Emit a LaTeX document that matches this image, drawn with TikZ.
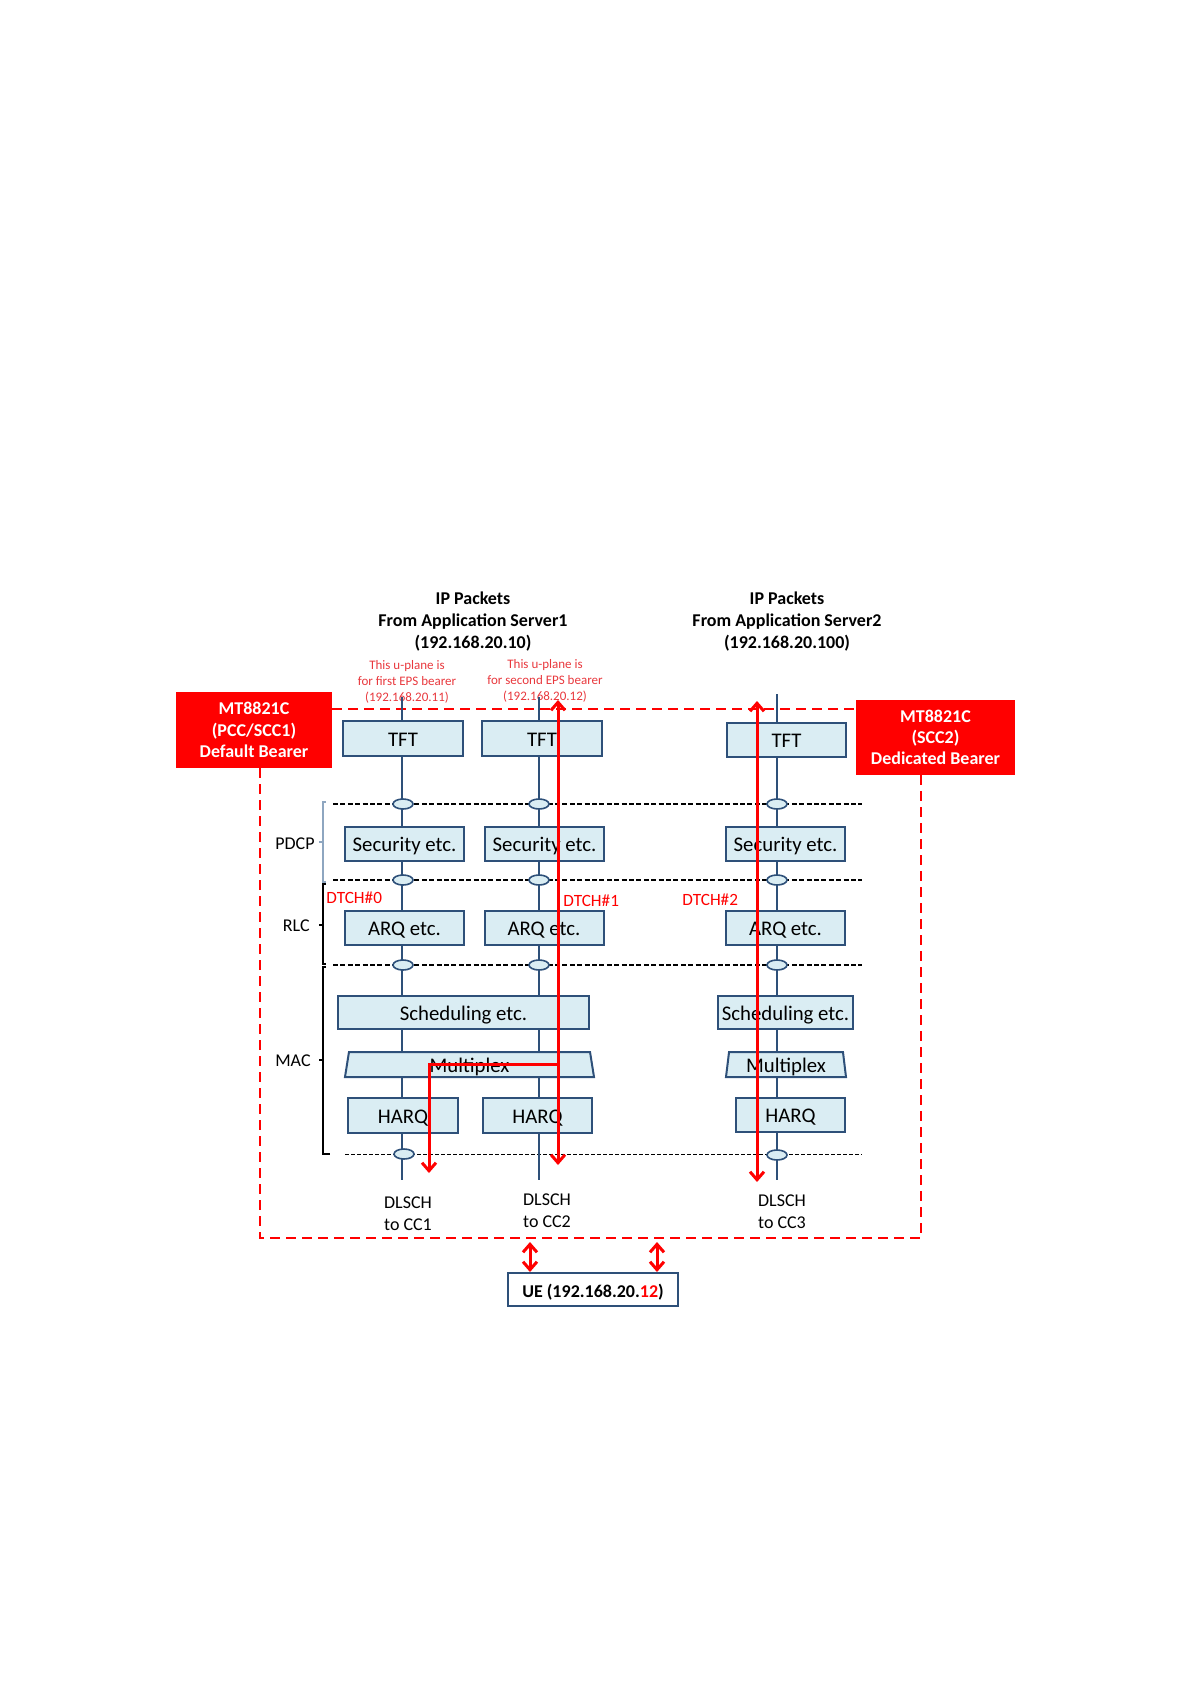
\documentclass[tikz,border=0pt]{standalone}
\usepackage{fontspec}
\setmainfont{Carlito}
\usetikzlibrary{positioning,arrows.meta,shapes.geometric}
\definecolor{navy}{HTML}{2E5079}
\definecolor{paleblue}{HTML}{DAEDF3}
\definecolor{alertred}{HTML}{FF0000}
\definecolor{notered}{HTML}{E8383D}
\definecolor{pdcpgrey}{HTML}{8EA6C0}

\begin{document}
\begin{tikzpicture}[
  x=0.5pt,y=-0.5pt,
  blk/.style={draw=navy,fill=paleblue,line width=1pt,minimum width=59.5pt,
              minimum height=17pt,inner sep=0pt,text height=0.82em,text depth=0.04em,
              font=\fontsize{10.4}{12}\selectfont},
  mux/.style={blk,trapezium,trapezium stretches body,minimum height=12.5pt},
  port/.style={ellipse,draw=navy,fill=paleblue,line width=0.8pt,
               minimum width=10pt,minimum height=5pt,inner sep=0pt},
  col/.style={draw=navy,line width=1pt},
  sep/.style={line width=0.8pt,dash pattern=on 2.5pt off 1.2pt},
  brk/.style={line width=0.6pt},
  head/.style={font=\bfseries\fontsize{9}{11}\selectfont,align=center},
  note/.style={text=notered,font=\fontsize{6.5}{8}\selectfont,align=center},
  chan/.style={text=alertred,font=\fontsize{8.6}{10}\selectfont,inner sep=0pt},
  lbl/.style={font=\fontsize{9}{10.8}\selectfont,align=center,inner sep=0pt},
  bearer/.style={fill=alertred,text=white,font=\bfseries\fontsize{9}{10.6}\selectfont,
                 align=center,inner sep=0pt},
  frame/.style={draw=alertred,line width=0.9pt,dash pattern=on 5pt off 3pt},
  flow/.style={draw=alertred,line width=1.5pt,>={Straight Barb[length=4pt,width=7pt]},->},
  bothway/.style={flow,<->}
]
\useasboundingbox (0,0) rectangle (1191,1684);

\node[head] (srvA) at (473,622) {IP Packets\\From Application Server1\\(192.168.20.10)};
\node[head] (srvB) at (787,622) {IP Packets\\From Application Server2\\(192.168.20.100)};
\node[note] (noteA) at (407,682) {This u-plane is\\for first EPS bearer\\(192.168.20.11)};
\node[note] (noteB) at (545,681) {This u-plane is\\for second EPS bearer\\(192.168.20.12)};

\node[bearer,minimum width=78pt,minimum height=38pt] (defbr) at (254,730)
  {MT8821C\\(PCC/SCC1)\\Default Bearer};
\node[bearer,minimum width=79.5pt,minimum height=37.5pt] (dedbr) at (935.5,737.5)
  {MT8821C\\(SCC2)\\Dedicated Bearer};
\draw[frame] (defbr.east |- 0,709) -- (dedbr.west |- 0,709);
\draw[frame] (defbr.south -| 260,0) |- (921,1238) -- (dedbr.south -| 921,0);

\draw[sep] (333,804) -- (862,804);
\draw[sep] (333,880) -- (862,880);
\draw[sep] (333,965) -- (862,965);
\draw[line width=0.5pt,dash pattern=on 2pt off 1pt] (345,1154) -- (862,1154);

\draw[brk,draw=pdcpgrey] (326,802) -- (323,802) -- (323,882) -- (326,882) (323,842) -- (319,842);
\draw[brk] (326,884) -- (323,884) -- (323,964) -- (326,964) (323,925) -- (319,925);
\draw[brk] (326,967) -- (323,967) -- (323,1154) -- (330,1154) (323,1060) -- (319,1060);
\node[lbl,anchor=east] (pdcp) at (315,844) {PDCP};
\node[lbl,anchor=east] (rlc) at (310,926) {RLC};
\node[lbl,anchor=east] (mac) at (311,1061) {MAC};

\coordinate (topA) at (402,697);
\coordinate (botA) at (402,1180);
\coordinate (topB) at (539,697);
\coordinate (botB) at (539,1180);
\coordinate (topC) at (777,694);
\coordinate (botC) at (777,1180);
\draw[col] (topA) -- (botA);
\draw[col] (topB) -- (botB);
\draw[col,line width=0.6pt] (topC) -- (botC);

\foreach \x/\n in {403/A,539/B,777/C} {
  \node[port] (port\n1) at (\x,804) {};
  \node[port] (port\n2) at (\x,880) {};
  \node[port] (port\n3) at (\x,965) {};
}
\node[port] (portA4) at (404,1154) {};
\node[port] (portC4) at (777,1155) {};

\node[blk,minimum width=60pt,minimum height=17.5pt] (tftA) at (403,738.5) {TFT};
\node[blk,minimum width=60pt,minimum height=17.5pt] (tftB) at (542,738.5) {TFT};
\node[blk] (tftC) at (786.5,740) {TFT};
\node[blk] (secA) at (404.5,844) {Security etc.};
\node[blk] (secB) at (544.5,844) {Security etc.};
\node[blk] (secC) at (785.5,844) {Security etc.};
\node[blk] (arqA) at (404.5,928) {ARQ etc.};
\node[blk] (arqB) at (544,928) {ARQ etc.};
\node[blk] (arqC) at (785.5,928) {ARQ etc.};
\node[blk,minimum width=125.5pt,minimum height=16.5pt] (schedA) at (463.5,1012.5) {Scheduling etc.};
\node[blk,minimum width=67.5pt,minimum height=16.5pt] (schedC) at (785.5,1012.5) {Scheduling etc.};
\node[mux,minimum width=124.5pt,trapezium left angle=77,trapezium right angle=77] (muxA) at (469.5,1064.5) {Multiplex};
\node[mux,minimum width=60pt,trapezium left angle=80,trapezium right angle=80] (muxC) at (786,1064.5) {Multiplex};
\node[blk,minimum width=55pt,minimum height=17.5pt] (harqA) at (403,1115.5) {HARQ};
\node[blk,minimum width=54.5pt,minimum height=17.5pt] (harqB) at (537.5,1115.5) {HARQ};
\node[blk,minimum width=54.5pt] (harqC) at (790.5,1115) {HARQ};

\node[chan,anchor=west] (dtchA) at (326,898) {DTCH\#0};
\node[chan,anchor=west] (dtchB) at (563,901) {DTCH\#1};
\node[chan,anchor=west] (dtchC) at (682,900) {DTCH\#2};

\node[lbl] (ccA) at (408,1214) {DLSCH\\to CC1};
\node[lbl] (ccB) at (547,1211) {DLSCH\\to CC2};
\node[lbl] (ccC) at (782,1212) {DLSCH\\to CC3};

\coordinate (upB) at (558,700);
\coordinate (dnB) at (558,1165);
\coordinate (brB) at (558,1064);
\coordinate (dnA) at (429,1173);
\coordinate (upC) at (757,701);
\coordinate (dnC) at (757,1182);
\draw[bothway] (upB) -- (dnB);
\draw[flow] (brB) -| (dnA);
\draw[bothway] (upC) -- (dnC);

\node[blk,fill=white,font=\bfseries\fontsize{9}{11}\selectfont,minimum width=85pt,
      minimum height=16.5pt] (ue) at (593,1289.5) {UE (192.168.20.\textcolor{alertred}{12})};
\coordinate (ueL) at (530,1242);
\coordinate (ueR) at (657,1242);
\draw[bothway] (ueL) -- (ueL |- ue.north);
\draw[bothway] (ueR) -- (ueR |- ue.north);
\end{tikzpicture}
\end{document}
